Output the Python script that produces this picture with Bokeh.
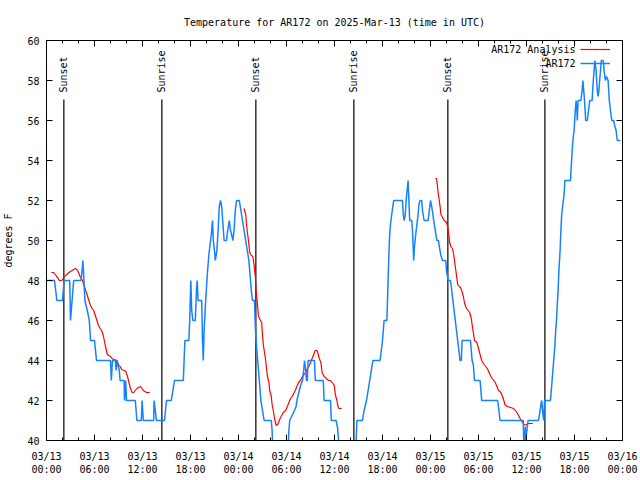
import math
import numpy as np
from bokeh.plotting import figure
from bokeh.models import FixedTicker, LinearAxis, Range1d, Label, Legend, LegendItem, ColumnDataSource
from bokeh.core.properties import value
from bokeh.embed import file_html
from bokeh.resources import INLINE

# ---------------- data (hours since 2025-03-13 00:00 UTC) ----------------
blue_hours = [0.0, 1.0, 1.3, 2.0, 2.2, 2.9, 3.0, 3.2, 3.4, 4.3, 4.45, 4.55, 4.8, 5.1, 5.35, 5.5,
              6.0, 6.25, 8.0, 8.1, 8.25, 8.6, 8.7, 8.8, 9.1, 9.2, 9.7, 9.75, 9.9, 10.0, 11.1, 11.3,
              11.85, 11.95, 12.1, 13.4, 13.45, 13.6, 13.75, 14.75, 15.0, 15.6, 15.8, 16.0, 17.1,
              17.2, 17.3, 17.8, 17.9, 18.04, 18.15, 18.3, 18.6, 18.75, 18.83, 18.95, 19.4, 19.5,
              19.6, 19.7, 19.9, 20.1, 20.3, 20.6, 20.75, 20.85, 21.0, 21.1, 21.3, 21.45, 21.6,
              21.75, 21.9, 22.2, 22.5, 22.65, 22.85, 23.0, 23.2, 23.3, 23.45, 23.6, 23.75, 24.1,
              24.3, 24.5, 24.7, 24.9, 25.1, 25.3, 25.5, 25.6, 25.75, 26.0, 26.1, 26.2, 26.4, 26.5,
              26.6, 26.8, 27.2, 28.1, 28.2, 28.3, 30.2, 30.3, 30.4, 31.0, 31.2, 31.3, 31.6, 31.8,
              32.0, 32.15, 32.25, 32.4, 32.5, 32.6, 32.7, 33.5, 33.6, 34.6, 34.7, 35.5, 35.6, 36.2,
              36.4, 36.6, 38.6, 38.7, 38.8, 39.5, 39.7, 39.85, 40.0, 40.2, 40.3, 40.4, 40.6, 40.7,
              40.8, 41.7, 41.85, 41.95, 42.1, 42.2, 42.55, 42.6, 42.7, 42.8, 42.9, 43.0, 43.15,
              43.4, 44.5, 44.6, 44.7, 44.85, 44.95, 45.2, 45.3, 45.4, 45.65, 45.75, 45.85, 45.9,
              46.0, 46.15, 46.3, 46.45, 46.55, 46.7, 46.9, 47.0, 47.2, 47.7, 47.85, 48.0, 48.15,
              48.3, 48.4, 48.6, 48.8, 49.0, 49.1, 49.3, 49.5, 49.9, 50.0, 50.1, 50.2, 50.5, 50.65,
              50.8, 50.95, 51.1, 51.25, 51.4, 51.55, 51.7, 51.85, 51.95, 53.0, 53.1, 53.2, 53.35,
              53.5, 54.2, 54.3, 54.4, 56.4, 56.55, 56.7, 59.6, 59.65, 59.75, 59.85, 59.9, 60.05,
              60.2, 61.5, 61.7, 61.8, 61.9, 62.0, 62.15, 62.25, 62.3, 63.0, 63.1, 63.2, 63.3, 63.4,
              63.55, 63.65, 63.75, 63.85, 63.95, 64.05, 64.2, 64.3, 64.4, 64.55, 64.7, 64.8, 65.5,
              65.6, 65.75, 65.85, 65.95, 66.1, 66.2, 66.3, 66.35, 66.45, 66.8, 66.95, 67.05, 67.15,
              67.25, 67.4, 67.6, 67.75, 67.9, 68.2, 68.35, 68.45, 68.55, 68.7, 68.85, 68.95, 69.05,
              69.15, 69.35, 69.6, 69.7, 69.85, 70.0, 70.2, 70.35, 70.5, 70.65, 70.9, 71.05, 71.2,
              71.35, 71.75]
blue_temps = [48, 48, 47, 47, 48, 48, 46, 47, 48, 48, 48.5, 49, 47, 46.5, 46, 45,
              45, 44, 44, 43, 44, 44, 43.5, 44, 43.5, 43, 43, 42, 43, 42, 42, 41,
              41, 42, 41, 41, 42, 41.5, 41, 41, 42, 42, 42.5, 43, 43,
              44, 45, 45, 46, 48, 46.5, 46, 46, 47.5, 48, 47, 47, 45,
              44, 45.5, 47, 48.3, 49.3, 50.3, 51, 50, 49.5, 49, 49.5, 50.5, 51.7,
              52, 51.7, 50, 50, 50.5, 51, 50.5, 50.2, 50, 50.5, 51.5, 52, 52,
              51.5, 51, 50.5, 50, 49.5, 49, 48, 47.5, 47, 47, 45.7, 45, 44, 43.5,
              43, 42, 41, 41, 40.5, 39.5, 39.5, 40.5, 41, 41.5, 41.7, 42, 42.5, 42.8,
              43, 43.5, 44, 43.5, 43, 43, 44, 44, 43, 43, 42, 42, 41, 41,
              40.6, 39.5, 39.5, 40, 41, 41, 41.5, 41.75, 42, 42.5, 42.75, 43, 43.5, 43.75,
              44, 44, 44.5, 44.8, 45.5, 46, 46, 46.7, 48, 49.3, 50.3, 50.8, 51.3,
              52, 52, 51.3, 51, 51.3, 52, 53, 52, 51, 51, 50.5, 49.5, 49,
              49.7, 50.3, 50.8, 51.3, 51.8, 52, 52, 51.5, 51, 51, 51.5, 52, 51.7,
              51.3, 51, 50.5, 50, 50, 49.7, 49.25, 49, 49, 48.5, 48.25, 48, 48, 47.5,
              47, 46.5, 46, 45.5, 45, 44.5, 44, 44, 45, 45, 44.5, 44, 43.8,
              43, 43, 42.5, 42, 42, 41.5, 41, 41, 40, 39.8, 40.7, 40, 40.5,
              41, 41, 41.5, 41.8, 42, 41.5, 41, 42, 42, 42, 42.5, 43, 43.5, 44,
              44.75, 45.5, 46, 46.8, 47.5, 48.5, 49.5, 50.5, 51.3, 51.8, 52.3, 53, 53,
              53.75, 54.75, 55.2, 55.5, 56.5, 57, 56.5, 56, 57, 57, 57.5, 58, 57.5,
              57, 56, 56, 56.5, 57, 57, 58, 58.5, 59, 58.5, 57.5, 57.2, 57.5,
              58, 59, 59, 58.5, 58, 58.2, 58, 57, 56.5, 56, 56, 55.7, 55.5,
              55, 55]

red1_hours = [0.6, 0.9, 1.1, 1.4, 1.6, 1.9, 2.1, 2.4, 2.8, 3.2, 3.6, 3.8, 4.0, 4.2, 4.5, 4.7,
              4.9, 5.1, 5.3, 5.5, 5.7, 5.9, 6.1, 6.3, 6.5, 6.7, 6.9, 7.1, 7.35, 7.6, 7.8, 8.0,
              8.2, 8.4, 8.6, 8.8, 9.0, 9.2, 9.4, 9.7, 9.9, 10.1, 10.3, 10.5, 10.7, 10.9, 11.1,
              11.3, 11.5, 11.75, 11.95, 12.1, 12.3, 12.5, 12.9]
red1_temps = [48.4, 48.4, 48.3, 48.13, 48.0, 48.0, 48.1, 48.25, 48.4, 48.5, 48.6, 48.55, 48.4,
              48.2, 48.0, 47.75, 47.5, 47.25, 47.0, 46.75, 46.6, 46.5, 46.25, 46.0, 45.75, 45.6,
              45.5, 45.25, 44.75, 44.3, 44.25, 44.2, 44.1, 44.03, 44.03, 44.0, 43.8, 43.7, 43.55,
              43.5, 43.45, 43.25, 42.9, 42.6, 42.4, 42.4, 42.5, 42.6, 42.65, 42.7, 42.6, 42.5,
              42.45, 42.4, 42.4]
red2_hours = [24.7, 24.9, 25.0, 25.15, 25.3, 25.4, 25.6, 25.8, 25.95, 26.1, 26.2, 26.4, 26.5,
              26.75, 26.9, 27.0, 27.1, 27.4, 27.6, 27.8, 27.9, 28.1, 28.2, 28.35, 28.5, 28.7,
              28.9, 29.2, 29.4, 29.6, 29.9, 30.1, 30.3, 30.5, 30.7, 30.9, 31.1, 31.3, 31.5,
              31.75, 32.0, 32.2, 32.4, 32.6, 32.8, 33.0, 33.2, 33.4, 33.6, 33.8, 33.9, 34.1,
              34.3, 34.45, 34.7, 34.9, 35.1, 35.3, 35.5, 35.7, 35.9, 36.0, 36.1, 36.3, 36.4,
              36.55, 36.9]
red2_temps = [51.6, 51.3, 50.8, 50.3, 49.8, 49.4, 49.25, 49.2, 48.75, 48.2, 47.5, 46.7, 46.2,
              46.0, 45.9, 45.3, 44.8, 44.0, 43.25, 42.9, 42.5, 42.2, 41.8, 41.5, 41.1, 40.75,
              40.8, 41.1, 41.25, 41.4, 41.5, 41.7, 41.9, 42.1, 42.2, 42.35, 42.5, 42.7, 42.9,
              43.0, 43.2, 43.3, 43.4, 43.6, 43.7, 43.9, 44.1, 44.3, 44.5, 44.5, 44.4, 44.1,
              43.9, 43.4, 43.2, 43.13, 43.05, 43.0, 43.0, 42.9, 42.8, 42.7, 42.3, 42.0, 41.75,
              41.6, 41.6]
red3_hours = [48.6, 48.75, 48.85, 48.95, 49.1, 49.2, 49.3, 49.45, 49.7, 50.0, 50.15, 50.3, 50.4,
              50.55, 50.75, 50.9, 51.0, 51.1, 51.25, 51.4, 51.6, 51.75, 51.9, 52.1, 52.3, 52.5,
              52.7, 52.9, 53.1, 53.2, 53.35, 53.5, 53.8, 54.0, 54.2, 54.4, 54.7, 55.1, 55.5,
              55.7, 55.9, 56.1, 56.3, 56.5, 56.7, 56.9, 57.1, 57.3, 57.6, 58.0, 58.4, 58.6,
              58.8, 59.0, 59.2, 59.5, 59.7, 59.9, 60.2, 60.5, 60.8]
red3_temps = [53.1, 53.1, 52.8, 52.4, 52.0, 51.7, 51.3, 51.2, 51.0, 50.9, 50.7, 50.25, 49.9,
              49.7, 49.6, 49.3, 49.0, 48.7, 48.25, 47.8, 47.7, 47.65, 47.5, 47.2, 46.8, 46.6,
              46.5, 46.4, 46.1, 45.8, 45.4, 45.0, 44.9, 44.6, 44.3, 44.0, 43.8, 43.6, 43.25,
              43.1, 43.0, 42.9, 42.7, 42.5, 42.45, 42.3, 42.1, 41.8, 41.7, 41.65, 41.6, 41.5,
              41.4, 41.25, 41.1, 40.9, 40.8, 40.78, 40.85, 40.85, 40.85]

sun_hours = [2.17, 14.42, 26.17, 38.42, 50.17, 62.3]
sun_labels = ["Sunset", "Sunrise", "Sunset", "Sunrise", "Sunset", "Sunrise"]

x_tick_hours = [0, 6, 12, 18, 24, 30, 36, 42, 48, 54, 60, 66, 72]
x_tick_labels = ["03/13\n00:00", "03/13\n06:00", "03/13\n12:00", "03/13\n18:00",
                 "03/14\n00:00", "03/14\n06:00", "03/14\n12:00", "03/14\n18:00",
                 "03/15\n00:00", "03/15\n06:00", "03/15\n12:00", "03/15\n18:00",
                 "03/16\n00:00"]
x_minor_hours = list(range(0, 73, 2))
y_ticks = [40, 42, 44, 46, 48, 50, 52, 54, 56, 58, 60]

title_text = "Temperature for AR172 on 2025-Mar-13 (time in UTC)"
y_label = "degrees F"
red_name = "AR172 Analysis"
blue_name = "AR172"

# ---------------- styling ----------------
FONT = "DejaVu Sans Mono"
FS = "10px"
BLUE = "#1482ff"
RED = "#ff0000"
sun_line_top = 57.05
sun_text_y = 57.4

p = figure(width=640, height=480, x_range=Range1d(0, 72), y_range=Range1d(40, 60),
           output_backend="svg", toolbar_location=None,
           min_border_left=46, min_border_right=18, min_border_top=40, min_border_bottom=40,
           title=title_text)
p.background_fill_color = "white"
p.border_fill_color = "white"
p.outline_line_color = "black"
p.outline_line_width = 1
p.grid.visible = False

p.title.text_font = FONT
p.title.text_font_size = FS
p.title.text_font_style = "normal"
p.title.align = "center"
p.title.text_color = "black"
p.title.standoff = 25

xa = p.xaxis[0]
xa.ticker = FixedTicker(ticks=x_tick_hours, minor_ticks=x_minor_hours)
xa.major_label_overrides = {h: lab for h, lab in zip(x_tick_hours, x_tick_labels)}
ya = p.yaxis[0]
ya.ticker = FixedTicker(ticks=y_ticks, minor_ticks=[])
ya.axis_label = y_label
for ax in (xa, ya):
    ax.major_label_text_font = FONT
    ax.major_label_text_font_size = FS
    ax.major_label_text_color = "black"
    ax.axis_label_text_font = FONT
    ax.axis_label_text_font_size = FS
    ax.axis_label_text_font_style = "normal"
    ax.axis_label_text_color = "black"
    ax.major_tick_in = 6
    ax.major_tick_out = 0
    ax.minor_tick_in = 3
    ax.minor_tick_out = 0
    ax.axis_line_color = "black"
    ax.major_tick_line_color = "black"
    ax.minor_tick_line_color = "black"
xa.major_label_standoff = 10
xa.major_label_text_line_height = 1.2
ya.major_label_standoff = 7
ya.axis_label_standoff = 10

# mirrored tick axes (no labels)
top = LinearAxis(ticker=FixedTicker(ticks=x_tick_hours, minor_ticks=x_minor_hours))
top.major_label_overrides = {h: "" for h in x_tick_hours}
right = LinearAxis(ticker=FixedTicker(ticks=y_ticks, minor_ticks=[]))
right.major_label_overrides = {v: "" for v in y_ticks}
for ax in (top, right):
    ax.major_label_standoff = 0
    ax.major_tick_in = 6
    ax.major_tick_out = 0
    ax.minor_tick_in = 3
    ax.minor_tick_out = 0
    ax.axis_line_color = None
    ax.major_tick_line_color = "black"
    ax.minor_tick_line_color = "black"
p.add_layout(top, "above")
p.add_layout(right, "right")

# sunrise / sunset markers
sun_src = ColumnDataSource(dict(x=sun_hours, label=sun_labels,
                                y0=[40] * len(sun_hours), y1=[sun_line_top] * len(sun_hours),
                                ty=[sun_text_y] * len(sun_hours)))
p.segment(x0="x", y0="y0", x1="x", y1="y1", source=sun_src, line_color="black", line_width=1.2)
p.text(x="x", y="ty", text="label", source=sun_src, angle=math.pi / 2,
       text_align="left", text_baseline="middle", text_font=value(FONT),
       text_font_size=FS, text_color="black")

# series
nan = [float("nan")]
red_x = red1_hours + nan + red2_hours + nan + red3_hours
red_y = red1_temps + nan + red2_temps + nan + red3_temps
r_red = p.line(red_x, red_y, line_color=RED, line_width=1.2)
r_blue = p.line(blue_hours, blue_temps, line_color=BLUE, line_width=1.5)

# key (gnuplot style: text right-aligned, sample line to its right)
key_text_x = 529
for name, ky in ((red_name, 391), (blue_name, 377)):
    p.add_layout(Label(x=key_text_x, y=ky, x_units="screen", y_units="screen", text=name,
                       text_align="right", text_baseline="middle", text_font=FONT,
                       text_font_size=FS, text_color="black"))
key = Legend(items=[LegendItem(label=" ", renderers=[r_red]),
                    LegendItem(label=" ", renderers=[r_blue])],
             location=(534, 370), glyph_width=30, glyph_height=14, label_height=14,
             label_standoff=0, padding=0, spacing=0, margin=0,
             border_line_color=None, background_fill_alpha=0,
             label_text_font=FONT, label_text_font_size=FS)
p.add_layout(key)

open("out.html", "w").write(file_html(p, INLINE))
